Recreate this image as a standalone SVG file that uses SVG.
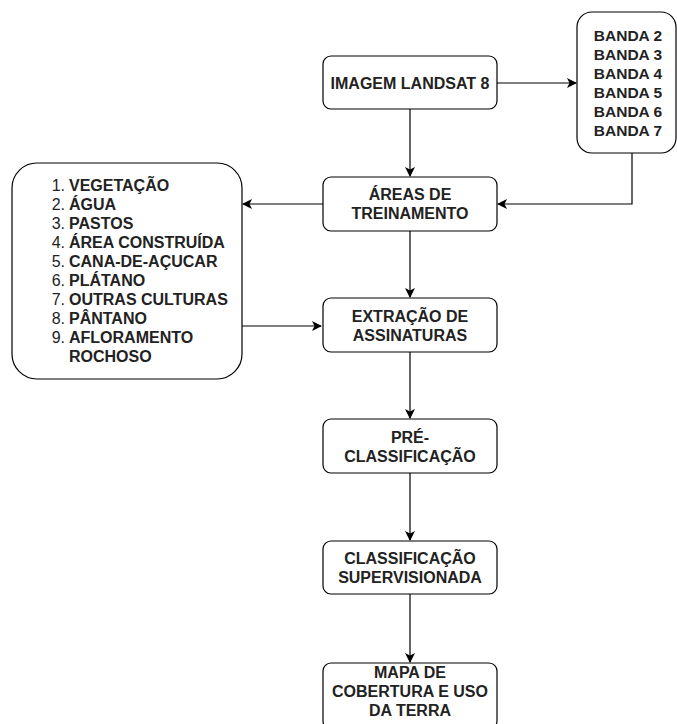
<svg xmlns="http://www.w3.org/2000/svg" width="677" height="724" viewBox="0 0 677 724">
<style>
.box{fill:#fff;stroke:#000;stroke-width:1.2}
.t{font-family:"Liberation Sans",Arial,sans-serif;font-size:16px;font-weight:bold;fill:#222;text-anchor:middle}
.b{font-family:"Liberation Sans",Arial,sans-serif;font-size:15.5px;font-weight:bold;fill:#222;text-anchor:middle}
.n{font-family:"Liberation Sans",Arial,sans-serif;font-size:16px;fill:#222;text-anchor:end}
.w{font-family:"Liberation Sans",Arial,sans-serif;font-size:16px;font-weight:bold;fill:#222;text-anchor:start}
.c{fill:none;stroke:#000;stroke-width:1.2;marker-end:url(#ah)}
</style>
<defs>
<marker id="ah" viewBox="0 0 10 10" refX="9" refY="5" markerWidth="10" markerHeight="10" markerUnits="userSpaceOnUse" orient="auto">
<path d="M0,0 L10,5 L0,10 L2.5,5 Z" fill="#000"/>
</marker>
</defs>
<rect width="677" height="724" fill="#fff"/>
<g id="connectors">
<path class="c" d="M497,83 L576,83"/>
<path class="c" d="M410,109 L410,176"/>
<path class="c" d="M632,153 L632,204 L498,204"/>
<path class="c" d="M323,204 L243,204"/>
<path class="c" d="M242,326 L321,326"/>
<path class="c" d="M410,231 L410,297"/>
<path class="c" d="M410,352 L410,418"/>
<path class="c" d="M410,473 L410,540"/>
<path class="c" d="M410,594 L410,662"/>
</g>
<g id="imagem">
<rect class="box" x="323" y="56" width="174" height="53" rx="8"/>
<text class="t" x="410" y="88.5">IMAGEM LANDSAT 8</text>
</g>
<g id="bandas">
<rect class="box" x="577" y="12" width="99" height="141" rx="15"/>
<text class="b" x="628" y="40.5">BANDA 2</text>
<text class="b" x="628" y="59.5">BANDA 3</text>
<text class="b" x="628" y="78.5">BANDA 4</text>
<text class="b" x="628" y="97.5">BANDA 5</text>
<text class="b" x="628" y="116.5">BANDA 6</text>
<text class="b" x="628" y="135.5">BANDA 7</text>
</g>
<g id="areas">
<rect class="box" x="323" y="177" width="174" height="54" rx="8"/>
<text class="t" x="410" y="199.5">ÁREAS DE</text>
<text class="t" x="410" y="218.5">TREINAMENTO</text>
</g>
<g id="classes">
<rect class="box" x="12" y="163" width="230" height="216" rx="25"/>
<text class="n" x="65" y="190.5">1.</text><text class="w" x="69" y="190.5">VEGETAÇÃO</text>
<text class="n" x="65" y="209.5">2.</text><text class="w" x="69" y="209.5">ÁGUA</text>
<text class="n" x="65" y="228.5">3.</text><text class="w" x="69" y="228.5">PASTOS</text>
<text class="n" x="65" y="247.5">4.</text><text class="w" x="69" y="247.5">ÁREA CONSTRUÍDA</text>
<text class="n" x="65" y="266.5">5.</text><text class="w" x="69" y="266.5">CANA-DE-AÇUCAR</text>
<text class="n" x="65" y="285.5">6.</text><text class="w" x="69" y="285.5">PLÁTANO</text>
<text class="n" x="65" y="304.5">7.</text><text class="w" x="69" y="304.5">OUTRAS CULTURAS</text>
<text class="n" x="65" y="323.5">8.</text><text class="w" x="69" y="323.5">PÂNTANO</text>
<text class="n" x="65" y="342.5">9.</text><text class="w" x="69" y="342.5">AFLORAMENTO</text>
<text class="w" x="69" y="361.5">ROCHOSO</text>
</g>
<g id="extracao">
<rect class="box" x="323" y="298" width="174" height="54" rx="8"/>
<text class="t" x="410" y="321.5">EXTRAÇÃO DE</text>
<text class="t" x="410" y="340.5">ASSINATURAS</text>
</g>
<g id="pre">
<rect class="box" x="323" y="419" width="174" height="54" rx="8"/>
<text class="t" x="410" y="442.5">PRÉ-</text>
<text class="t" x="410" y="461.5">CLASSIFICAÇÃO</text>
</g>
<g id="classificacao">
<rect class="box" x="323" y="541" width="174" height="53" rx="8"/>
<text class="t" x="410" y="563.5">CLASSIFICAÇÃO</text>
<text class="t" x="410" y="582.5">SUPERVISIONADA</text>
</g>
<g id="mapa">
<rect class="box" x="323" y="663" width="174" height="66" rx="8"/>
<text class="t" x="410" y="677.5">MAPA DE</text>
<text class="t" x="410" y="696.5">COBERTURA E USO</text>
<text class="t" x="410" y="715.5">DA TERRA</text>
</g>
</svg>
